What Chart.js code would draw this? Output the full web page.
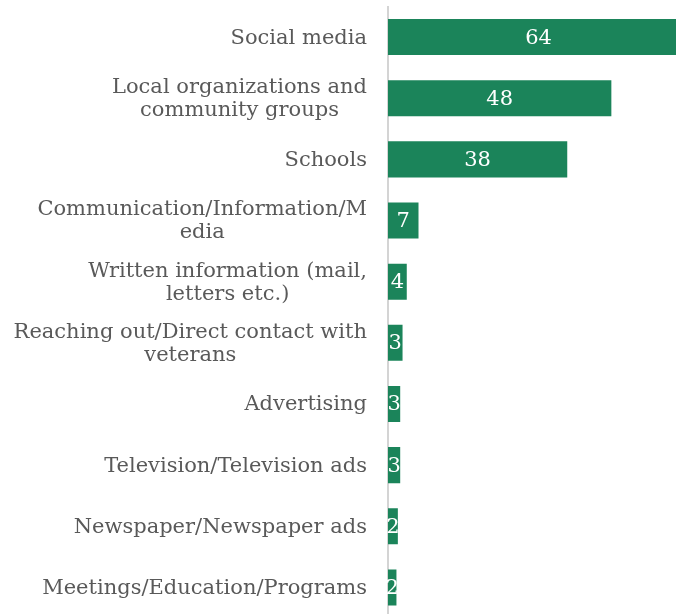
<!DOCTYPE html>
<html>
<head>
<meta charset="utf-8">
<script src="https://cdn.jsdelivr.net/npm/chart.js@4/dist/chart.umd.min.js"></script>
<style>
  html, body { margin: 0; padding: 0; background: #ffffff; overflow: hidden; }
  #wrap { position: absolute; left: 0; top: 0; width: 693px; height: 618px; }
</style>
</head>
<body>
<div id="wrap"><canvas id="c" width="693" height="618"></canvas></div>
<script>
const categories = [
  ["Social media"],
  ["Local organizations and", "community groups"],
  ["Schools"],
  ["Communication/Information/M", "edia"],
  ["Written information (mail,", "letters etc.)"],
  ["Reaching out/Direct contact with", "veterans"],
  ["Advertising"],
  ["Television/Television ads"],
  ["Newspaper/Newspaper ads"],
  ["Meetings/Education/Programs"]
];
const values = [64.2, 47.6, 38.2, 6.5, 4.0, 3.1, 2.6, 2.6, 2.1, 1.8];
const axisMax = 65;

const BAR = '#1b845a';
const TEXT = '#595959';
const FONT = '"DejaVu Serif", "Liberation Serif", serif';
const FSIZE = 21;

const labelPlugin = {
  id: 'catLabels',
  afterDraw(chart) {
    const ctx = chart.ctx;
    const y = chart.scales.y;
    const x = chart.scales.x;
    ctx.save();
    ctx.font = FSIZE + 'px ' + FONT;
    ctx.fillStyle = TEXT;
    ctx.textBaseline = 'middle';
    ctx.textAlign = 'center';
    const right = chart.chartArea.left - 21;
    const lh = 23;
    categories.forEach((lines, i) => {
      const cy = y.getPixelForValue(i) + 1;
      const w = Math.max(...lines.map(l => ctx.measureText(l).width));
      const cx = right - w / 2;
      const y0 = cy - (lines.length - 1) * lh / 2;
      lines.forEach((l, k) => ctx.fillText(l, cx, y0 + k * lh));
    });
    // value labels centred in bars
    ctx.font = '21px ' + FONT;
    ctx.fillStyle = '#ffffff';
    const meta = chart.getDatasetMeta(0);
    meta.data.forEach((bar, i) => {
      const cx = x.getPixelForValue(values[i] / 2);
      ctx.fillText(String(Math.round(values[i])), cx, bar.y + 1);
    });
    ctx.restore();
  }
};

new Chart(document.getElementById('c'), {
  type: 'bar',
  data: {
    labels: categories,
    datasets: [{
      data: values,
      backgroundColor: BAR,
      borderWidth: 0,
      barPercentage: 0.59,
      categoryPercentage: 1.0
    }]
  },
  options: {
    indexAxis: 'y',
    responsive: false,
    animation: false,
    events: [],
    layout: { padding: { top: 6.5, bottom: 0, left: 0, right: 0 } },
    plugins: { legend: { display: false }, tooltip: { enabled: false } },
    scales: {
      x: {
        min: 0, max: axisMax,
        display: false,
        grid: { display: false }
      },
      y: {
        grid: { display: false, drawTicks: false },
        border: { display: true, color: '#d4d4d4', width: 2 },
        ticks: { display: false },
        afterFit(scale) { scale.width = 388; }
      }
    }
  },
  plugins: [labelPlugin]
});
</script>
</body>
</html>
